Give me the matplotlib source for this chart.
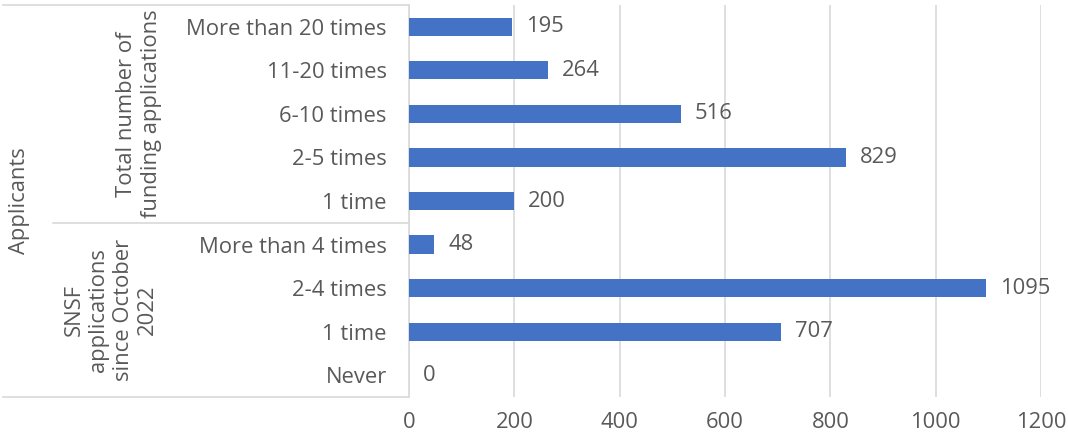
import matplotlib
matplotlib.use("Agg")
import matplotlib.pyplot as plt
from matplotlib.transforms import blended_transform_factory
from matplotlib.lines import Line2D

# categories listed bottom to top, as drawn
categories = ["Never", "1 time", "2-4 times", "More than 4 times",
              "1 time", "2-5 times", "6-10 times", "11-20 times", "More than 20 times"]
values = [0, 707, 1095, 48, 200, 829, 516, 264, 195]
groups = ["SNSF\napplications\nsince October\n2022", "Total number of\nfunding applications"]
group_sizes = [4, 5]
outer_label = "Applicants"
xticks = [0, 200, 400, 600, 800, 1000, 1200]

text_col = "#595959"
grid_col = "#D9D9D9"
bar_col = "#4472C4"
fs = 15.8

plt.rcParams["font.family"] = ["Open Sans", "DejaVu Sans"]

fig = plt.figure(figsize=(10.68, 4.38), dpi=100)
ax = fig.add_axes([409 / 1068, 1 - 397 / 438, (1041 - 409) / 1068, (397 - 5) / 438])

pos = list(range(len(categories)))
bars = ax.barh(pos, values, height=0.42, color=bar_col, zorder=3)
ax.bar_label(bars, padding=10, fontsize=fs, color=text_col)

ax.set_xlim(0, 1200)
ax.set_ylim(-0.5, len(categories) - 0.5)
ax.set_xticks(xticks)
ax.set_xticklabels([str(t) for t in xticks])
ax.set_yticks(pos)
ax.set_yticklabels(categories)
ax.tick_params(axis="both", length=0, labelsize=fs, labelcolor=text_col)
ax.tick_params(axis="y", pad=16)
ax.tick_params(axis="x", pad=11)

ax.xaxis.grid(True, color=grid_col, linewidth=1.2, zorder=0)
for side in ["top", "right", "bottom"]:
    ax.spines[side].set_visible(False)
ax.spines["left"].set_color(grid_col)
ax.spines["left"].set_linewidth(1.2)

# category box lines on the left (x in figure fraction, y in data units)
tr = blended_transform_factory(fig.transFigure, ax.transData)
x_out = 3 / 1068
x_mid = 53 / 1068
x_axis = 409 / 1068
top = len(categories) - 0.5
split = group_sizes[0] - 0.5
for xs, ys in [((x_out, x_axis), (top, top)),
               ((x_out, x_axis), (-0.5, -0.5)),
               ((x_mid, x_axis), (split, split))]:
    fig.add_artist(Line2D(xs, ys, transform=tr, color=grid_col, linewidth=1.2))

# group labels
start = -0.5
group_x = [111 / 1068, 139 / 1068]
for label, size, gx in zip(groups, group_sizes, group_x):
    mid = start + size / 2
    fig.text(gx, mid, label, transform=tr, rotation=90, ha="center", va="center",
             fontsize=fs, color=text_col, linespacing=1.2, multialignment="center")
    start += size

fig.text(20 / 1068, (top - 0.5) / 2, outer_label, transform=tr, rotation=90,
         ha="center", va="center", fontsize=fs, color=text_col)

fig.savefig("out.png", dpi=100)
